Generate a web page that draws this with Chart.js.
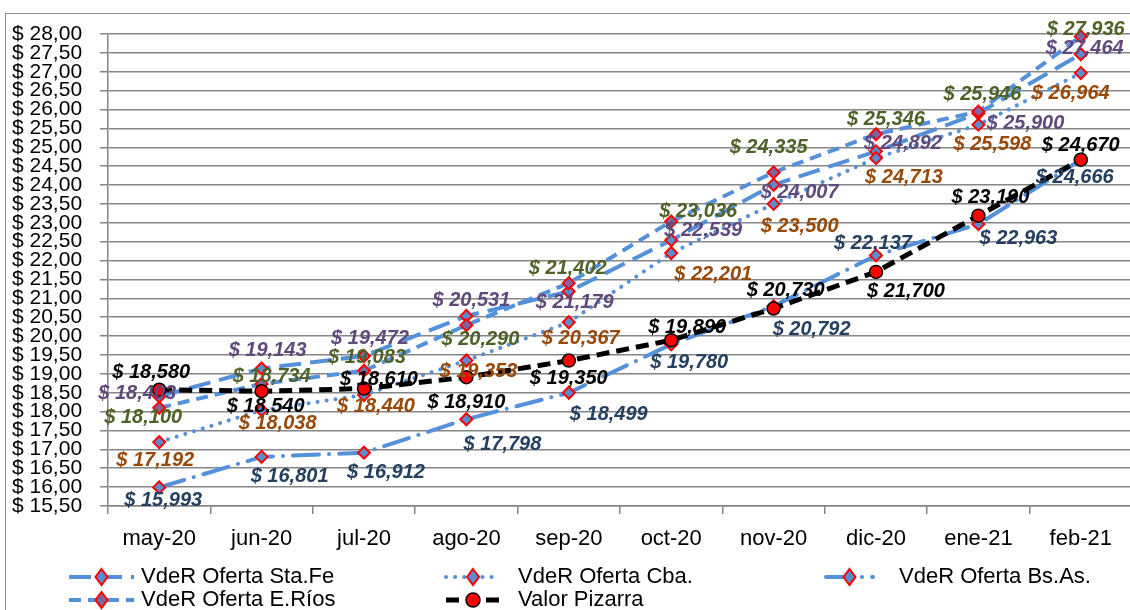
<!DOCTYPE html>
<html>
<head>
<meta charset="utf-8">
<script src="https://cdn.jsdelivr.net/npm/chart.js@4.4.1/dist/chart.umd.min.js"></script>
<style>
  html, body { margin: 0; padding: 0; background: #fff; overflow: hidden; }
  #wrap { position: relative; width: 1140px; height: 610px; }
  #frame { position: absolute; left: 5px; top: 13px; width: 1200px; height: 700px; border: 1px solid #8c8c8c; box-sizing: border-box; }
  canvas { position: absolute; left: 0; top: 0; }
</style>
</head>
<body>
<div id="wrap">
  <div id="frame"></div>
  <canvas id="chart" width="1140" height="610"></canvas>
</div>
<script>
// ----------- datos -----------
const meses = ['may-20', 'jun-20', 'jul-20', 'ago-20', 'sep-20', 'oct-20', 'nov-20', 'dic-20', 'ene-21', 'feb-21'];

const staFe   = [18.403, 19.143, 19.472, 20.531, 21.179, 22.539, 24.007, 24.892, 25.900, 27.464];
const cba     = [17.192, 18.038, 18.440, 19.353, 20.367, 22.201, 23.500, 24.713, 25.598, 26.964];
const bsAs    = [15.993, 16.801, 16.912, 17.798, 18.499, 19.780, 20.792, 22.137, 22.963, 24.666];
const eRios   = [18.100, 18.734, 19.083, 20.290, 21.402, 23.036, 24.335, 25.346, 25.946, 27.936];
const pizarra = [18.580, 18.540, 18.610, 18.910, 19.350, 19.890, 20.730, 21.700, 23.190, 24.670];

const yMin = 15.5, yMax = 28, yStep = 0.5;

// desplazamiento de cada etiqueta respecto a su punto (px)
const offStaFe = [[-22,-3],[6,-18],[6,-18],[5,-16],[6,11],[32,-10],[26,8],[27,-8],[47,10],[4,-6]];
const offCba   = [[-4,18],[16,13],[12,11],[12,11],[12,16],[42,22],[26,23],[28,19],[14,20],[-10,20]];
const offBsAs  = [[4,13],[28,20],[22,20],[36,25],[40,22],[18,18],[38,23],[-3,-12],[40,14],[-6,18]];
const offERios = [[-16,10],[10,-7],[3,-13],[14,14],[-1,-15],[27,-10],[-5,-25],[10,-15],[4,-17],[5,-7]];
const offPiz   = [[-8,-17],[4,15],[15,-9],[0,25],[0,18],[16,-13],[12,-18],[30,20],[12,-18],[0,-14]];

const azul = '#5590DA';
const fmt = v => '$ ' + v.toFixed(3).replace('.', ',');

function serie(label, data, dash, fill, labelColor, offsets, order, cap) {
    return {
        label: label, data: data,
        borderColor: azul, borderWidth: 4, borderDash: dash, borderCapStyle: cap || 'butt',
        pointStyle: 'rectRot', pointRadius: 6, pointHoverRadius: 6,
        pointBackgroundColor: fill, pointBorderColor: '#FF0000', pointBorderWidth: 2,
        tension: 0, fill: false, clip: false, order: order,
        labelColor: labelColor, offsets: offsets
    };
}

const datasets = [
    serie('VdeR Oferta Sta.Fe', staFe, [22, 9], '#5B8BD0', '#604A7B', offStaFe, 5),
    serie('VdeR Oferta Cba.', cba, [0.1, 9], '#5B8BD0', '#984807', offCba, 4, 'round'),
    serie('VdeR Oferta Bs.As.', bsAs, [26, 10, 0.1, 10], '#5B8BD0', '#243F60', offBsAs, 3, 'round'),
    serie('VdeR Oferta E.Ríos', eRios, [12, 7], '#8064A2', '#4F6228', offERios, 2),
    {
        label: 'Valor Pizarra', data: pizarra,
        borderColor: '#000000', borderWidth: 5, borderDash: [13, 7],
        pointStyle: 'circle', pointRadius: 6.5, pointHoverRadius: 6.5,
        pointBackgroundColor: '#FF0000', pointBorderColor: '#000000', pointBorderWidth: 1.5,
        tension: 0, fill: false, clip: false, order: 1,
        labelColor: '#000000', offsets: offPiz
    }
];

// etiquetas de datos
const etiquetas = {
    id: 'etiquetas',
    afterDatasetsDraw(chart) {
        const ctx = chart.ctx;
        ctx.save();
        ctx.font = 'italic bold 20px "Liberation Sans"';
        ctx.textAlign = 'center';
        ctx.textBaseline = 'middle';
        chart.data.datasets.forEach((ds, i) => {
            const meta = chart.getDatasetMeta(i);
            ctx.fillStyle = ds.labelColor;
            meta.data.forEach((pt, j) => {
                const o = ds.offsets[j];
                ctx.fillText(fmt(ds.data[j]), pt.x + o[0], pt.y + o[1]);
            });
        });
        ctx.restore();
    }
};

// leyenda propia (3 columnas)
const leyenda = {
    id: 'leyenda',
    afterDraw(chart) {
        const ctx = chart.ctx;
        const pos = [[69, 577], [446, 577], [826, 577], [69, 600], [446, 600]];
        const anchos = [65, 54, 47, 65, 54];
        chart.data.datasets.forEach((ds, i) => {
            const x0 = pos[i][0], y = pos[i][1], w = anchos[i];
            ctx.save();
            ctx.strokeStyle = ds.borderColor;
            ctx.lineWidth = ds.borderWidth;
            ctx.lineCap = ds.borderCapStyle || 'butt';
            ctx.setLineDash(ds.borderDash);
            ctx.beginPath();
            ctx.moveTo(x0, y);
            ctx.lineTo(x0 + w, y);
            ctx.stroke();
            ctx.setLineDash([]);
            const cx = x0 + w / 2;
            ctx.fillStyle = ds.pointBackgroundColor;
            ctx.strokeStyle = ds.pointBorderColor;
            ctx.lineWidth = ds.pointBorderWidth;
            ctx.beginPath();
            if (ds.pointStyle === 'circle') {
                ctx.arc(cx, y, 7, 0, Math.PI * 2);
            } else {
                ctx.moveTo(cx, y - 8); ctx.lineTo(cx + 6, y); ctx.lineTo(cx, y + 8); ctx.lineTo(cx - 6, y); ctx.closePath();
            }
            ctx.fill();
            ctx.stroke();
            ctx.fillStyle = '#000';
            ctx.font = '22px "Liberation Sans"';
            ctx.textBaseline = 'middle';
            ctx.textAlign = 'left';
            const tx = (i === 2) ? 899 : (i === 1 || i === 4) ? 518 : 141;
            ctx.fillText(ds.label, tx, y);
            ctx.restore();
        });
    }
};

const grisEje = '#868686';

new Chart(document.getElementById('chart'), {
    type: 'line',
    data: { labels: meses, datasets: datasets },
    options: {
        responsive: false,
        animation: false,
        devicePixelRatio: 1,
        layout: { padding: { left: 12, right: 2, top: 34, bottom: 0 } },
        plugins: { legend: { display: false }, tooltip: { enabled: false } },
        scales: {
            x: {
                offset: true,
                grid: { offset: true, drawOnChartArea: false, drawTicks: true, tickLength: 8, color: grisEje, lineWidth: 1.5 },
                border: { color: grisEje, width: 1.5 },
                ticks: { color: '#000', font: { family: 'Liberation Sans', size: 22 }, padding: 12, maxRotation: 0, autoSkip: false },
                afterFit(scale) { scale.height = 104; }
            },
            y: {
                min: yMin, max: yMax,
                grid: { color: grisEje, lineWidth: 1.5, tickLength: 8 },
                border: { color: grisEje, width: 1.5 },
                ticks: {
                    stepSize: yStep, crossAlign: 'far', color: '#000', autoSkip: false,
                    font: { family: 'Liberation Sans', size: 21 },
                    callback: v => '$ ' + v.toFixed(2).replace('.', ',')
                },
                afterFit(scale) { scale.width = 96; }
            }
        }
    },
    plugins: [etiquetas, leyenda]
});
</script>
</body>
</html>
